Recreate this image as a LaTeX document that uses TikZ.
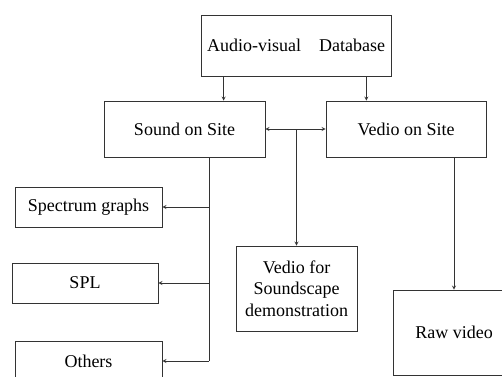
\documentclass[tikz,border=0pt]{standalone}
\usepackage{fontspec}
\setmainfont{Liberation Serif}
\usetikzlibrary{calc}

\begin{document}
\begin{tikzpicture}[x=1pt, y=-1pt,
    BOX/.style={rectangle, draw=black!80, line width=0.8pt, inner sep=2pt, align=center, font=\fontsize{18}{21.5}\selectfont},
    LNK/.style={draw=black!80, line width=0.8pt, >=stealth}
    ]
        \clip (0,0) rectangle (502,376);
        % database and the two site branches
        \node[BOX, minimum width=190pt, minimum height=61pt] (db) at (296,45.5) {Audio-visual\quad Database};
        \node[BOX, minimum width=161pt, minimum height=56pt] (sound) at (184.5,129) {Sound on Site};
        \node[BOX, minimum width=160pt, minimum height=56pt] (vedio) at (406,129) {Vedio on Site};
        \draw[LNK,->] ([xshift=23pt]db.south west) -- ([xshift=23pt]db.south west |- sound.north);
        \draw[LNK,->] ([xshift=-25pt]db.south east) -- ([xshift=-25pt]db.south east |- vedio.north);
        \draw[LNK,<->] (sound.east) -- (vedio.west);
        % sound outputs
        \node[BOX, minimum width=147pt, minimum height=40pt] (spec) at (88.5,207) {Spectrum graphs};
        \node[BOX, minimum width=146pt, minimum height=40pt] (spl) at (85,283) {SPL};
        \node[BOX, minimum width=147pt, minimum height=40pt] (others) at (88.5,361) {Others};
        \coordinate (trunk) at ([xshift=24.5pt]sound.south);
        \draw[LNK] (trunk) -- (trunk |- others.east);
        \draw[LNK,->] (trunk |- spec.east) -- (spec.east);
        \draw[LNK,->] (trunk |- spl.east) -- (spl.east);
        \draw[LNK,->] (trunk |- others.east) -- (others.east);
        % video outputs
        \node[BOX, minimum width=121pt, minimum height=85pt] (demo) at (296.5,288.5) {Vedio for\\Soundscape\\demonstration};
        \node[BOX, minimum width=122pt, minimum height=85pt] (raw) at (454,332.5) {Raw video};
        \draw[LNK,->] (demo.north |- sound.east) -- (demo.north);
        \draw[LNK,->] (raw.north |- vedio.south) -- (raw.north);
    \end{tikzpicture}
\end{document}
